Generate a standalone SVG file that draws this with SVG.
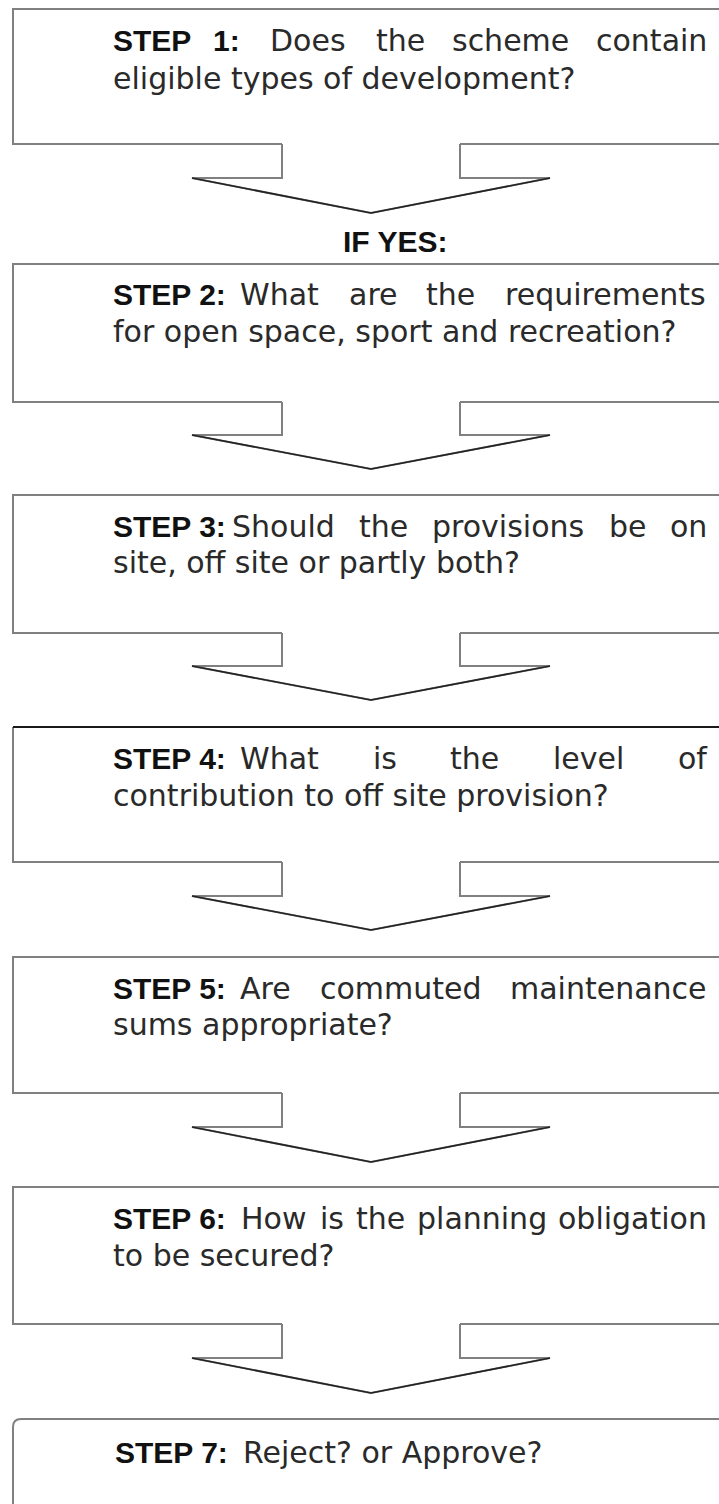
<svg xmlns="http://www.w3.org/2000/svg" width="719" height="1504" viewBox="0 0 719 1504">
<style>
.bg{fill:#ffffff}
.edge{fill:none;stroke:#808080;stroke-width:2}
.edge-dark{fill:none;stroke:#1a1a1a;stroke-width:2}
.arrow{fill:#ffffff;stroke:#808080;stroke-width:2}
.wing{fill:none;stroke:#222222;stroke-width:1.6}
.t{font-family:"DejaVu Sans","Liberation Sans",sans-serif;font-size:30px;fill:#2a2a2a}
.b{font-family:"Liberation Sans","DejaVu Sans",sans-serif;font-size:30px;font-weight:bold;fill:#111111}
</style>
<rect x="0" y="0" width="719" height="1504" class="bg"/>

<g id="step1">
  <rect x="13" y="9" width="720" height="135" class="bg"/>
  <path class="edge" d="M730 9 H13 V144 H282 M460 144 H730"/>
  <text class="t" y="51"><tspan class="b" x="113">STEP</tspan><tspan class="b" x="213">1:</tspan><tspan x="270">Does</tspan><tspan x="376">the</tspan><tspan x="452">scheme</tspan><tspan x="596">contain</tspan></text>
  <text class="t" x="113" y="89">eligible types of development?</text>
</g>

<g id="step2">
  <rect x="13" y="264" width="720" height="138" class="bg"/>
  <path class="edge" d="M730 264 H13 V402 H282 M460 402 H730"/>
  <text class="t" y="305"><tspan class="b" x="113">STEP 2:</tspan><tspan x="240">What</tspan><tspan x="349">are</tspan><tspan x="426">the</tspan><tspan x="505">requirements</tspan></text>
  <text class="t" x="113" y="342">for open space, sport and recreation?</text>
</g>

<g id="step3">
  <rect x="13" y="495" width="720" height="138" class="bg"/>
  <path class="edge" d="M730 495 H13 V633 H282 M460 633 H730"/>
  <text class="t" y="537"><tspan class="b" x="113">STEP 3:</tspan><tspan x="232">Should</tspan><tspan x="359">the</tspan><tspan x="432">provisions</tspan><tspan x="609">be</tspan><tspan x="670">on</tspan></text>
  <text class="t" x="113" y="573">site, off site or partly both?</text>
</g>

<g id="step4">
  <rect x="13" y="727" width="720" height="135" class="bg"/>
  <path class="edge" d="M13 727 V862 H282 M460 862 H730"/>
  <path class="edge-dark" d="M730 727 H13"/>
  <text class="t" y="769"><tspan class="b" x="113">STEP 4:</tspan><tspan x="240">What</tspan><tspan x="373">is</tspan><tspan x="450">the</tspan><tspan x="553">level</tspan><tspan x="678">of</tspan></text>
  <text class="t" x="113" y="806">contribution to off site provision?</text>
</g>

<g id="step5">
  <rect x="13" y="957" width="720" height="136" class="bg"/>
  <path class="edge" d="M730 957 H13 V1093 H282 M460 1093 H730"/>
  <text class="t" y="999"><tspan class="b" x="113">STEP 5:</tspan><tspan x="240">Are</tspan><tspan x="320">commuted</tspan><tspan x="510">maintenance</tspan></text>
  <text class="t" x="113" y="1035">sums appropriate?</text>
</g>

<g id="step6">
  <rect x="13" y="1187" width="720" height="137" class="bg"/>
  <path class="edge" d="M730 1187 H13 V1324 H282 M460 1324 H730"/>
  <text class="t" y="1229"><tspan class="b" x="113">STEP 6:</tspan><tspan x="241">How</tspan><tspan x="320">is</tspan><tspan x="356">the</tspan><tspan x="417">planning</tspan><tspan x="558">obligation</tspan></text>
  <text class="t" x="113" y="1266">to be secured?</text>
</g>

<g id="step7">
  <path class="bg" d="M730 1419 H21 Q13 1419 13 1427 V1510 H730 Z"/>
  <path class="edge" d="M730 1419 H21 Q13 1419 13 1427 V1510"/>
  <text class="t" y="1463"><tspan class="b" x="115">STEP 7:</tspan><tspan x="243">Reject? or Approve?</tspan></text>
</g>

<g id="connectors">
  <g id="arrow1">
    <path class="arrow" d="M282 144 V178 H192 L371 213 L550 178 H460 V144"/>
    <path class="wing" d="M192 178 L371 213 L550 178"/>
    <text class="b" x="343" y="252">IF YES:</text>
  </g>
  <g id="arrow2">
    <path class="arrow" d="M282 402 V435 H192 L371 469 L550 435 H460 V402"/>
    <path class="wing" d="M192 435 L371 469 L550 435"/>
  </g>
  <g id="arrow3">
    <path class="arrow" d="M282 633 V666 H192 L371 700 L550 666 H460 V633"/>
    <path class="wing" d="M192 666 L371 700 L550 666"/>
  </g>
  <g id="arrow4">
    <path class="arrow" d="M282 862 V896 H192 L371 930 L550 896 H460 V862"/>
    <path class="wing" d="M192 896 L371 930 L550 896"/>
  </g>
  <g id="arrow5">
    <path class="arrow" d="M282 1093 V1127 H192 L371 1162 L550 1127 H460 V1093"/>
    <path class="wing" d="M192 1127 L371 1162 L550 1127"/>
  </g>
  <g id="arrow6">
    <path class="arrow" d="M282 1324 V1358 H192 L371 1393 L550 1358 H460 V1324"/>
    <path class="wing" d="M192 1358 L371 1393 L550 1358"/>
  </g>
</g>
</svg>
